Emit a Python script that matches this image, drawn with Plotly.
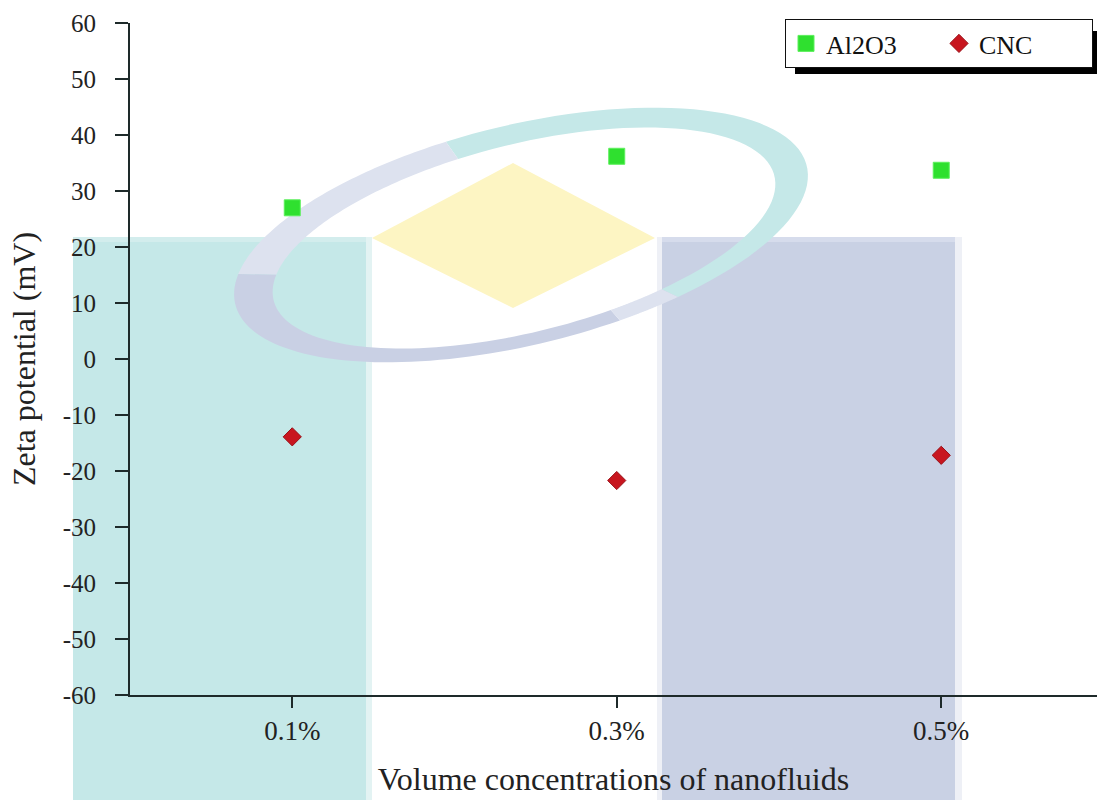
import numpy as np
import plotly.graph_objects as go

# ---- data -------------------------------------------------------------
concentrations = ["0.1%", "0.3%", "0.5%"]
al2o3_zeta = [27.0, 36.2, 33.7]
cnc_zeta = [-13.9, -21.7, -17.2]
y_ticks = list(range(-60, 61, 10))
y_tick_text = [str(v) for v in y_ticks]

# ---- figure geometry (pixels) -----------------------------------------
W, H = 1097, 800
L, R, T, B = 130, 0, 23, 105
PW, PH = W - L - R, H - T - B


def px(x, y):
    """pixel position -> paper coordinates"""
    return (x - L) / PW, (H - B - y) / PH


def rect(x0, y0, x1, y1, color, layer="below"):
    a, b = px(x0, y0)
    c, d = px(x1, y1)
    return dict(type="rect", xref="paper", yref="paper", x0=a, y0=b, x1=c, y1=d,
                fillcolor=color, line=dict(width=0), layer=layer)


def poly(points, color, layer="below", opacity=1.0):
    pts = [px(x, y) for x, y in points]
    path = "M " + " L ".join(f"{x:.5f},{y:.5f}" for x, y in pts) + " Z"
    return dict(type="path", xref="paper", yref="paper", path=path,
                fillcolor=color, line=dict(width=0), layer=layer, opacity=opacity)


def ellipse(cx, cy, a, b, rot, t):
    th = np.radians(rot)
    t = np.radians(t)
    X = a * np.cos(t) * np.cos(th) - b * np.sin(t) * np.sin(th)
    Y = a * np.cos(t) * np.sin(th) + b * np.sin(t) * np.cos(th)
    return cx + X, cy - Y


def ring(t0, t1, color, opacity=1.0):
    t = np.linspace(t0, t1, 60)
    ox, oy = ellipse(521, 235, 294, 110, 13.6, t)
    ix, iy = ellipse(524, 238, 258, 94, 14.0, t[::-1])
    pts = list(zip(ox, oy)) + list(zip(ix, iy))
    return poly(pts, color, opacity=opacity)


# ---- background emblem ------------------------------------------------
shapes = [
    rect(73, 237, 366, 810, "#c5e8e8"),
    rect(73, 237, 366, 242, "#d3eded"),
    rect(366, 237, 372, 810, "#e3f3f3"),
    rect(657, 237, 662, 810, "#eef0f6"),
    rect(662, 237, 955, 810, "#c9d1e4"),
    rect(662, 237, 955, 242, "#d6dcec"),
    rect(955, 237, 962, 810, "#eef0f6"),
    poly([(372, 238), (513, 163), (655, 238), (513, 308)], "#fdf5c3"),
    ring(-62, 100, "#c5e8e8"),
    ring(100, 165, "#dde2ef"),
    ring(165, 285, "#c9d0e4"),
    ring(285, 298, "#dde2ef"),
]

# legend drop shadow
shapes.append(rect(795, 31, 1100, 74, "#000000", layer="above"))

serif = "Liberation Serif"

fig = go.Figure()
fig.add_trace(go.Scatter(
    x=concentrations, y=al2o3_zeta, mode="markers", name="Al2O3",
    marker=dict(symbol="square", size=16, color="#2fe02f",
                line=dict(width=1, color="#5cf05c")),
))
fig.add_trace(go.Scatter(
    x=concentrations, y=cnc_zeta, mode="markers", name="CNC",
    marker=dict(symbol="diamond", size=14, color="#c8161f",
                line=dict(width=1, color="#9a1018")),
))

fig.update_layout(
    width=W, height=H,
    margin=dict(l=L, r=R, t=T, b=B, autoexpand=False),
    paper_bgcolor="white",
    plot_bgcolor="rgba(0,0,0,0)",
    shapes=shapes,
    font=dict(family=serif, color="#222222"),
    legend=dict(
        orientation="h",
        x=px(1093, 0)[0], xanchor="right",
        y=px(0, 19)[1], yanchor="top",
        bgcolor="white", bordercolor="#111111", borderwidth=1,
        font=dict(family=serif, size=26, color="#111111"),
        entrywidth=108,
    ),
    showlegend=True,
)

fig.update_xaxes(
    range=[-0.5, 2.48], showgrid=False, zeroline=False,
    showline=True, linecolor="#1e2a2a", linewidth=2,
    ticks="outside", ticklen=11, tickwidth=2, tickcolor="#1e2a2a",
    tickfont=dict(family=serif, size=27, color="#222222"),
    ticklabelstandoff=0,
    title=dict(text="Volume concentrations of nanofluids",
               font=dict(family=serif, size=32, color="#222222"), standoff=22),
)
fig.update_yaxes(
    range=[-60, 60], tickvals=y_ticks, ticktext=y_tick_text,
    showgrid=False, zeroline=False,
    showline=True, linecolor="#1e2a2a", linewidth=2,
    ticks="outside", ticklen=13, tickwidth=2, tickcolor="#1e2a2a",
    tickfont=dict(family=serif, size=25, color="#222222"),
    ticklabelstandoff=14,
    title=dict(text="Zeta potential (mV)",
               font=dict(family=serif, size=32, color="#222222"), standoff=17),
)

fig.write_html("out.html")
